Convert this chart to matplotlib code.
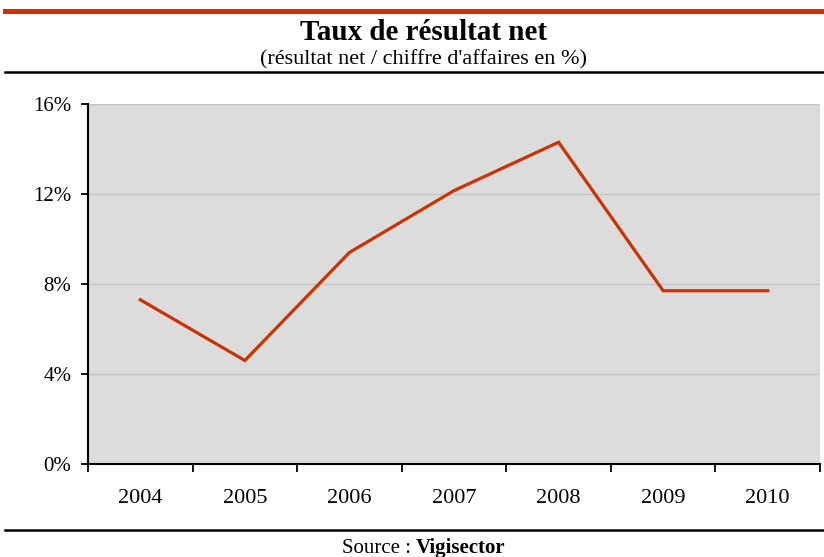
import matplotlib
matplotlib.use('Agg')
import matplotlib.pyplot as plt
from matplotlib.lines import Line2D
from matplotlib.ticker import FuncFormatter, FixedLocator
import numpy as np

annees = ['2004', '2005', '2006', '2007', '2008', '2009', '2010']
taux = [7.3, 4.6, 9.4, 12.15, 14.3, 7.7, 7.7]
yticks = [0, 4, 8, 12, 16]

rouge = '#CC3300'
plt.rcParams['font.family'] = ['Liberation Serif', 'DejaVu Serif']

fig = plt.figure(figsize=(8.24, 5.57), dpi=100)
ax = fig.add_axes([88/824, 1-464/557, 732/824, 360/557])

x = np.arange(len(annees))
ax.plot(x, taux, color=rouge, lw=2.3, solid_joinstyle='miter')
ax.set_facecolor('#DCDCDC')
ax.set_xlim(-0.5, len(annees)-0.5)
ax.set_ylim(0, 16)

ax.set_yticks(yticks)
ax.yaxis.set_major_formatter(FuncFormatter(lambda v, p: f'{v:.0f}%'))
ax.yaxis.grid(True, color='#C4C4C4', lw=1)
ax.set_axisbelow(True)
ax.tick_params(axis='y', direction='out', length=5, width=1.3, labelsize=15, pad=7)

ax.set_xticks(x)
ax.set_xticklabels(annees)
ax.xaxis.set_minor_locator(FixedLocator(np.arange(-0.5, len(annees), 1)))
ax.tick_params(axis='x', which='major', length=0, labelsize=16, pad=18)
ax.tick_params(axis='x', which='minor', direction='out', length=6, width=1.3)

for s in ['top', 'right']:
    ax.spines[s].set_visible(False)
for s in ['left', 'bottom']:
    ax.spines[s].set_linewidth(1.5)

fig.add_artist(Line2D([5/824, 1], [1-10.5/557]*2, color=rouge, lw=3.6))
fig.add_artist(Line2D([5/824, 1], [1-72/557]*2, color='black', lw=1.8))
fig.add_artist(Line2D([5/824, 1], [1-530/557]*2, color='black', lw=1.8))

fig.text(0.514, 1-32.5/557, 'Taux de résultat net', ha='center', va='center',
         fontsize=21, fontweight='bold')
fig.text(0.514, 1-59.5/557, "(résultat net / chiffre d'affaires en %)", ha='center',
         va='center', fontsize=16)
fig.text(0.499, 1-548.5/557, 'Source :', ha='right', va='center', fontsize=15)
fig.text(0.505, 1-548.5/557, 'Vigisector', ha='left', va='center', fontsize=15,
         fontweight='bold')

fig.savefig('out.png', dpi=100)
